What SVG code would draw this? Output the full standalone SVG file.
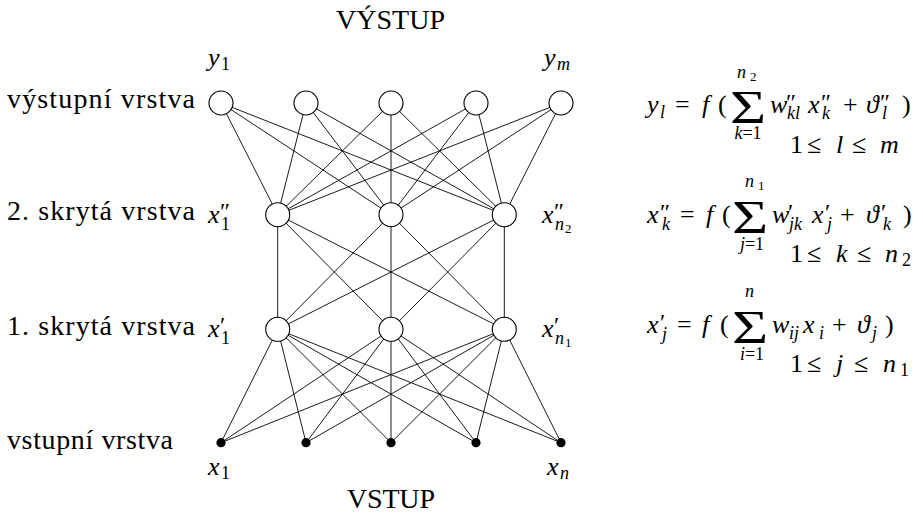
<svg xmlns="http://www.w3.org/2000/svg" width="923" height="514" viewBox="0 0 923 514">
<style>
text{font-family:"Liberation Serif","Times New Roman",serif;fill:#000}
.t{font-size:28px}
.r{font-size:26px}
.m{font-size:26px;font-style:italic}
.s{font-size:18px;font-style:italic}
.sr{font-size:18px}
.ss{font-size:13px}
.p{font-size:24px}
.sum{font-size:46px}
.e line{stroke:#000;stroke-width:0.9}
.n circle{fill:#fff;stroke:#000;stroke-width:1.1}
.d circle{fill:#000}
</style>
<rect width="923" height="514" fill="#fff"/>
<g id="connectors" class="e">
<line x1="221" y1="103" x2="277.7" y2="214.7"/><line x1="221" y1="103" x2="391" y2="214.7"/><line x1="221" y1="103" x2="504.3" y2="214.7"/>
<line x1="306" y1="103" x2="277.7" y2="214.7"/><line x1="306" y1="103" x2="391" y2="214.7"/><line x1="306" y1="103" x2="504.3" y2="214.7"/>
<line x1="391" y1="103" x2="277.7" y2="214.7"/><line x1="391" y1="103" x2="391" y2="214.7"/><line x1="391" y1="103" x2="504.3" y2="214.7"/>
<line x1="476" y1="103" x2="277.7" y2="214.7"/><line x1="476" y1="103" x2="391" y2="214.7"/><line x1="476" y1="103" x2="504.3" y2="214.7"/>
<line x1="561" y1="103" x2="277.7" y2="214.7"/><line x1="561" y1="103" x2="391" y2="214.7"/><line x1="561" y1="103" x2="504.3" y2="214.7"/>
<line x1="277.7" y1="214.7" x2="277.7" y2="329.3"/><line x1="277.7" y1="214.7" x2="391" y2="329.3"/><line x1="277.7" y1="214.7" x2="504.3" y2="329.3"/>
<line x1="391" y1="214.7" x2="277.7" y2="329.3"/><line x1="391" y1="214.7" x2="391" y2="329.3"/><line x1="391" y1="214.7" x2="504.3" y2="329.3"/>
<line x1="504.3" y1="214.7" x2="277.7" y2="329.3"/><line x1="504.3" y1="214.7" x2="391" y2="329.3"/><line x1="504.3" y1="214.7" x2="504.3" y2="329.3"/>
<line x1="277.7" y1="329.3" x2="221" y2="442.7"/><line x1="277.7" y1="329.3" x2="306" y2="442.7"/><line x1="277.7" y1="329.3" x2="391" y2="442.7"/><line x1="277.7" y1="329.3" x2="476" y2="442.7"/><line x1="277.7" y1="329.3" x2="561" y2="442.7"/>
<line x1="391" y1="329.3" x2="221" y2="442.7"/><line x1="391" y1="329.3" x2="306" y2="442.7"/><line x1="391" y1="329.3" x2="391" y2="442.7"/><line x1="391" y1="329.3" x2="476" y2="442.7"/><line x1="391" y1="329.3" x2="561" y2="442.7"/>
<line x1="504.3" y1="329.3" x2="221" y2="442.7"/><line x1="504.3" y1="329.3" x2="306" y2="442.7"/><line x1="504.3" y1="329.3" x2="391" y2="442.7"/><line x1="504.3" y1="329.3" x2="476" y2="442.7"/><line x1="504.3" y1="329.3" x2="561" y2="442.7"/>
</g>
<g id="out1" class="n"><circle cx="221" cy="103" r="12"/></g>
<g id="out2" class="n"><circle cx="306" cy="103" r="12"/></g>
<g id="out3" class="n"><circle cx="391" cy="103" r="12"/></g>
<g id="out4" class="n"><circle cx="476" cy="103" r="12"/></g>
<g id="out5" class="n"><circle cx="561" cy="103" r="12"/></g>
<g id="h2a" class="n"><circle cx="277.7" cy="214.7" r="12"/></g>
<g id="h2b" class="n"><circle cx="391" cy="214.7" r="12"/></g>
<g id="h2c" class="n"><circle cx="504.3" cy="214.7" r="12"/></g>
<g id="h1a" class="n"><circle cx="277.7" cy="329.3" r="12"/></g>
<g id="h1b" class="n"><circle cx="391" cy="329.3" r="12"/></g>
<g id="h1c" class="n"><circle cx="504.3" cy="329.3" r="12"/></g>
<g id="in1" class="d"><circle cx="221" cy="442.7" r="4.6"/></g>
<g id="in2" class="d"><circle cx="306" cy="442.7" r="4.6"/></g>
<g id="in3" class="d"><circle cx="391" cy="442.7" r="4.6"/></g>
<g id="in4" class="d"><circle cx="476" cy="442.7" r="4.6"/></g>
<g id="in5" class="d"><circle cx="561" cy="442.7" r="4.6"/></g>

<g id="titles">
<text class="t" x="336" y="29" textLength="109">VÝSTUP</text>
<text class="t" x="347" y="508" textLength="88">VSTUP</text>
<text class="t" x="7" y="108" textLength="188">výstupní vrstva</text>
<text class="t" x="7" y="220" textLength="188">2. skrytá vrstva</text>
<text class="t" x="7" y="335" textLength="188">1. skrytá vrstva</text>
<text class="t" x="7" y="449" textLength="166">vstupní vrstva</text>
</g>

<g id="nodelabels">
<text class="m" x="208" y="66">y</text><text class="sr" x="221" y="70">1</text>
<text class="m" x="544" y="66">y</text><text class="s" x="557" y="70">m</text>
<text class="m" x="208" y="222.5">x</text><text class="p" x="220" y="219">″</text><text class="sr" x="221" y="230">1</text>
<text class="m" x="542" y="222.5">x</text><text class="p" x="554" y="219">″</text><text class="s" x="555" y="230">n</text><text class="ss" x="565" y="233">2</text>
<text class="m" x="208" y="336.5">x</text><text class="p" x="220" y="333">′</text><text class="sr" x="221" y="344">1</text>
<text class="m" x="542" y="336.5">x</text><text class="p" x="554" y="333">′</text><text class="s" x="555" y="344">n</text><text class="ss" x="565" y="347">1</text>
<text class="m" x="208" y="475">x</text><text class="sr" x="221" y="479">1</text>
<text class="m" x="547" y="475">x</text><text class="s" x="560" y="479">n</text>
</g>

<g id="eq1">
<text class="m" x="647" y="113">y</text><text class="s" x="660" y="118">l</text>
<text class="r" x="675" y="113">=</text>
<text class="m" x="702" y="113">f</text><text class="r" x="718" y="113">(</text>
<text class="sum" transform="translate(730,123) scale(1.35,1)">Σ</text>
<text class="s" x="737" y="78">n</text><text class="ss" x="750" y="81">2</text>
<text class="s" x="748" y="139" text-anchor="middle">k<tspan font-style="normal">=1</tspan></text>
<text class="m" x="770" y="113">w</text><text class="p" x="786" y="110">″</text><text class="s" x="787" y="119">kl</text>
<text class="m" x="808" y="113">x</text><text class="p" x="821" y="110">″</text><text class="s" x="822" y="119">k</text>
<text class="r" x="843" y="113">+</text>
<text class="m" x="866" y="113">ϑ</text><text class="p" x="880" y="110">″</text><text class="s" x="882" y="119">l</text>
<text class="r" x="902" y="113">)</text>
<text class="r" x="790" y="153">1</text><text class="r" x="807" y="153">≤</text><text class="m" x="836" y="153">l</text><text class="r" x="852" y="153">≤</text><text class="m" x="880" y="153">m</text>
</g>

<g id="eq2">
<text class="m" x="647" y="223">x</text><text class="p" x="660" y="220">″</text><text class="s" x="662" y="230">k</text>
<text class="r" x="680" y="223">=</text>
<text class="m" x="706" y="223">f</text><text class="r" x="722" y="223">(</text>
<text class="sum" transform="translate(732,233) scale(1.35,1)">Σ</text>
<text class="s" x="745" y="187">n</text><text class="ss" x="758" y="190">1</text>
<text class="s" x="752" y="250" text-anchor="middle">j<tspan font-style="normal">=1</tspan></text>
<text class="m" x="772" y="223">w</text><text class="p" x="788" y="220">′</text><text class="s" x="789" y="230">jk</text>
<text class="m" x="812" y="223">x</text><text class="p" x="825" y="220">′</text><text class="s" x="827" y="230">j</text>
<text class="r" x="840" y="223">+</text>
<text class="m" x="866" y="223">ϑ</text><text class="p" x="881" y="220">′</text><text class="s" x="883" y="230">k</text>
<text class="r" x="903" y="223">)</text>
<text class="r" x="790" y="262">1</text><text class="r" x="807" y="262">≤</text><text class="m" x="836" y="262">k</text><text class="r" x="857" y="262">≤</text><text class="m" x="885" y="262">n</text><text class="sr" x="902" y="266">2</text>
</g>

<g id="eq3">
<text class="m" x="647" y="333">x</text><text class="p" x="660" y="330">′</text><text class="s" x="662" y="340">j</text>
<text class="r" x="677" y="333">=</text>
<text class="m" x="702" y="333">f</text><text class="r" x="720" y="333">(</text>
<text class="sum" transform="translate(732,343) scale(1.35,1)">Σ</text>
<text class="s" x="745" y="297">n</text>
<text class="s" x="752" y="360" text-anchor="middle">i<tspan font-style="normal">=1</tspan></text>
<text class="m" x="772" y="333">w</text><text class="s" x="789" y="339">ij</text>
<text class="m" x="803" y="333">x</text><text class="s" x="819" y="339">i</text>
<text class="r" x="832" y="333">+</text>
<text class="m" x="857" y="333">ϑ</text><text class="s" x="872" y="339">j</text>
<text class="r" x="885" y="333">)</text>
<text class="r" x="790" y="372">1</text><text class="r" x="807" y="372">≤</text><text class="m" x="836" y="372">j</text><text class="r" x="854" y="372">≤</text><text class="m" x="883" y="372">n</text><text class="sr" x="900" y="376">1</text>
</g>
</svg>
